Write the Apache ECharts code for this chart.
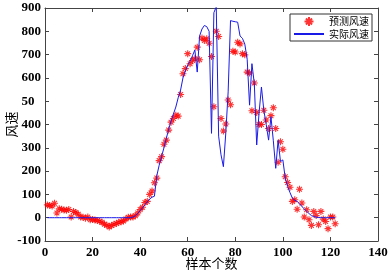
<!DOCTYPE html>
<html><head><meta charset="utf-8">
<script src="https://cdn.jsdelivr.net/npm/echarts@6/dist/echarts.min.js"></script>
<style>html,body{margin:0;padding:0;background:#fff}#c{width:392px;height:274px}</style>
</head><body><div id="c"></div>
<script>
// Predicted wind speed (sample 1..122)
const predicted = [
  55, 52, 50, 62, 20, 38, 36, 33, 32, 35,
  3, 27, 22, 15, 3, 2, -2, 3, -9, -8,
  -10, -12, -15, -20, -28, -32, -40, -33, -28, -25,
  -20, -17, -14, -6, 2, 3, 3, 8, 20, 35,
  45, 65, 70, 100, 115, 150, 170, 245, 262, 315,
  333, 376, 410, 426, 440, 436, 529, 618, 640, 704,
  661, 675, 682, 732, 678, 771, 761, 768, 749, 692,
  476, 800, 778, 426, 372, 402, 505, 485, 714, 711,
  753, 746, 704, 699, 625, 621, 459, 578, 452, 400,
  400, 461, 419, 383, 438, 472, 383, 238, 326, 294,
  176, 151, 131, 70, 77, 36, 122, 63, 3, 34,
  -9, -33, 27, 9, -30, 27, -6, -16, -47, 3,
  3, -26
];
// Actual wind speed (sample 1..122)
const actual = [
  0, 0, 0, 0, 0, 0, 0, 0, 0, 0,
  0, 0, 0, 0, 0, 0, 0, 0, 0, 0,
  0, 0, 0, 0, 0, 0, 0, 0, 0, 0,
  0, 0, 0, 0, 0, 0, 3, 8, 18, 30,
  42, 55, 68, 80, 88, 92, 180, 225, 262, 300,
  340, 380, 415, 445, 475, 515, 548, 600, 630, 655,
  672, 695, 720, 625, 780, 810, 825, 820, 800, 362,
  880, 905, 350, 270, 219, 362, 540, 846, 843, 841,
  839, 780, 770, 745, 680, 483, 661, 575, 312, 450,
  561, 461, 400, 333, 433, 330, 212, 333, 241, 248,
  170, 134, 108, 84, 75, 70, 60, 48, 38, 27,
  18, 9, 5, 2, 1, 0, 0, 0, 0, 0,
  0, 0
];
const xTickLabels = ['0', '20', '40', '60', '80', '100', '120', '140'];
const yTickLabels = ['-100', '0', '100', '200', '300', '400', '50\u2007', '600', '700', '800', '900'];
const seriesNames = ['预测风速', '实际风速'];
const xName = '样本个数';
const yName = '风速';

const chart = echarts.init(document.getElementById('c'), null, {renderer: 'canvas'});
const frame = '#444';
const numFont = {color: '#000', fontFamily: 'Liberation Serif', fontWeight: 'bold', fontSize: 13};
const cjkFont = 'Noto Sans CJK SC';
const asterisk = 'path://M5,0L5,10M0,5L10,5M1.6,1.6L8.4,8.4M1.6,8.4L8.4,1.6';

function xAx(pos, labels) {
  return {
    type: 'value', position: pos, min: 0, max: 140, interval: 20,
    nameMoveOverlap: false,
    axisLine: {show: true, onZero: false, lineStyle: {color: frame, width: 1}},
    axisTick: {show: true, inside: true, length: 4, lineStyle: {color: frame}},
    splitLine: {show: false},
    axisLabel: labels ? Object.assign({margin: 5, hideOverlap: false, formatter: v => xTickLabels[Math.round(v / 20)]}, numFont) : {show: false}
  };
}
function yAx(pos, labels) {
  return {
    type: 'value', position: pos, min: -100, max: 900, interval: 100,
    nameMoveOverlap: false,
    axisLine: {show: true, onZero: false, lineStyle: {color: frame, width: 1}},
    axisTick: {show: true, inside: true, length: 4, lineStyle: {color: frame}},
    splitLine: {show: false},
    axisLabel: labels ? Object.assign({margin: 4, hideOverlap: false,
      formatter: v => yTickLabels[Math.round((v + 100) / 100)]}, numFont) : {show: false}
  };
}
const xa = xAx('bottom', true);
xa.name = xName; xa.nameLocation = 'middle'; xa.nameGap = 16;
xa.nameTextStyle = {fontFamily: cjkFont, fontSize: 13, color: '#000'};
const ya = yAx('left', true);
ya.name = yName; ya.nameLocation = 'middle'; ya.nameGap = 27;
ya.nameTextStyle = {fontFamily: cjkFont, fontSize: 13, color: '#000'};

chart.setOption({
  animation: false,
  backgroundColor: '#fff',
  grid: {left: 45, right: 14, top: 8, bottom: 33, containLabel: false, outerBoundsMode: 'none'},
  xAxis: [xa, xAx('top', false)],
  yAxis: [ya, yAx('right', false)],
  legend: {
    data: [
      {name: seriesNames[0]},
      {name: seriesNames[1], itemStyle: {color: 'rgba(0,0,0,0)', borderWidth: 0, opacity: 0}}
    ],
    orient: 'vertical', right: 20, top: 14,
    backgroundColor: '#fff', borderColor: '#333', borderWidth: 1, borderRadius: 0,
    padding: [2, 3, 2, 3], itemGap: 2, itemWidth: 30, itemHeight: 9,
    textStyle: {fontFamily: cjkFont, fontSize: 10, color: '#000', lineHeight: 10}
  },
  series: [
    {
      name: seriesNames[0], type: 'scatter',
      data: predicted.map((v, i) => [i + 1, v]),
      symbol: asterisk, symbolSize: 7,
      itemStyle: {color: '#ff0000', borderColor: '#ff0000', borderWidth: 1.1},
      z: 2
    },
    {
      name: seriesNames[1], type: 'line',
      data: actual.map((v, i) => [i + 1, v]),
      showSymbol: false, symbol: 'none', clip: true,
      lineStyle: {color: '#1a1ae6', width: 1},
      itemStyle: {color: '#1a1ae6'},
      z: 3
    }
  ]
});
</script></body></html>
